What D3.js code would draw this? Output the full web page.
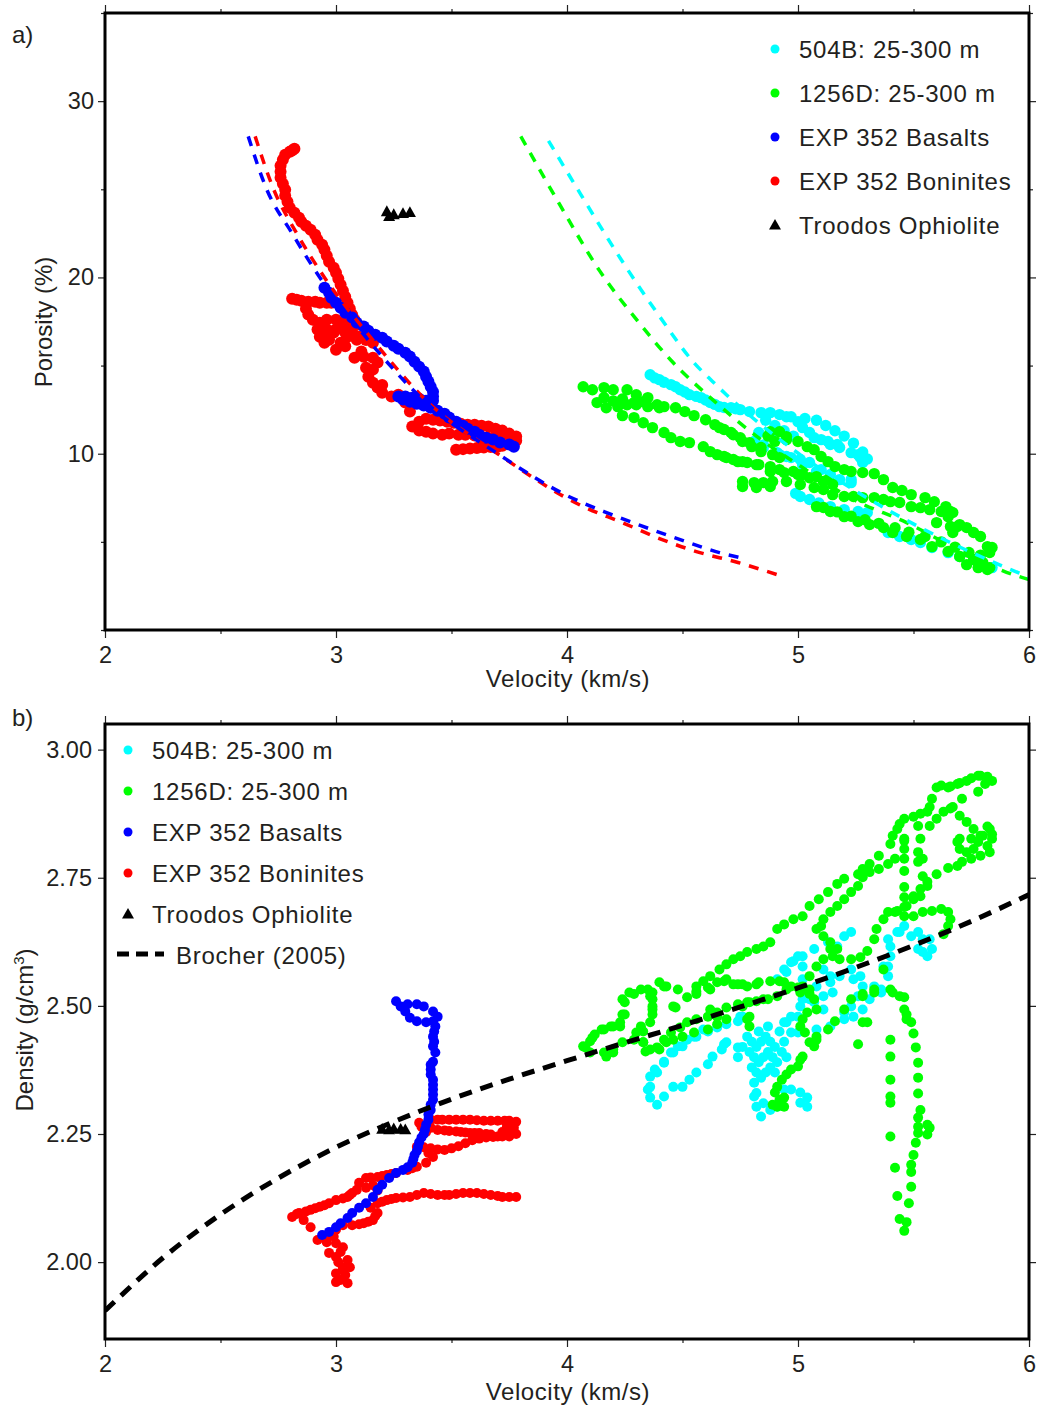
<!DOCTYPE html>
<html>
<head>
<meta charset="utf-8">
<script src="https://cdn.jsdelivr.net/npm/d3@7"></script>
<style>
  html, body { margin: 0; padding: 0; background: #fff; }
  svg { display: block; }
  text { font-family: "Liberation Sans", Arial, Helvetica, sans-serif; fill: #231f20; }
</style>
</head>
<body>
<script>
// ---------- axis ticks ----------
const velocityTicks = [2, 3, 4, 5, 6];
const velocityMinor = [2.5, 3.5, 4.5, 5.5];
const porosityTicks = [10, 20, 30];
const porosityMinor = [0, 5, 15, 25, 35];
const densityTicks = [2.00, 2.25, 2.50, 2.75, 3.00];

const legendLabels = ["504B: 25-300 m", "1256D: 25-300 m", "EXP 352 Basalts", "EXP 352 Boninites", "Troodos Ophiolite"];
const brocherLabel = "Brocher (2005)";

// ---------- (a) velocity [km/s] vs porosity [%] ----------
const hole504B_por = [
  [4.36,14.48],[4.40,14.20],[4.45,13.92],[4.49,13.63],[4.53,13.35],[4.58,13.18],[4.62,12.90],[4.66,12.67],[4.71,12.61],[4.75,12.50],
  [4.79,12.39],[4.84,12.33],[4.88,12.33],[4.92,12.22],[4.97,12.10],[5.00,11.82],[5.02,11.48],[5.05,11.20],[5.10,10.80],[5.14,10.52],
  [5.18,10.35],[5.23,10.06],[5.27,9.78],[5.28,9.50],
  [4.38,14.30],[4.42,14.05],[4.47,13.80],[4.51,13.50],[4.56,13.25],[4.60,13.05],[4.64,12.80],[4.68,12.62],[4.73,12.55],
  [4.81,10.63],[4.85,10.35],[4.91,10.06],[4.97,9.78],[5.02,9.38],[5.08,8.99],[5.14,8.82],[5.23,8.53],
  [4.95,12.10],[5.07,10.91],[5.13,10.69],[5.17,10.52],[5.26,9.95],[4.81,10.69],[4.85,10.50],[4.92,9.95],[4.95,9.84],[5.01,9.67],
  [5.05,9.50],[5.10,9.10],[5.18,8.53],[5.23,8.36],[5.03,12.00],[5.08,11.90],[5.12,11.60],[5.16,11.30],[5.20,11.00],[5.24,10.60],
  [5.28,10.10],[5.30,9.70],[4.86,11.90],[4.90,11.60],[4.94,11.30],[4.98,11.00],[4.83,11.20],[4.88,11.00],
  [5.01,7.57],[5.05,7.40],[5.14,7.00],[5.20,6.83],[5.26,6.72],[5.30,6.66],[4.99,7.75],[5.09,7.20],
  [5.39,5.53],[5.44,5.30],[5.49,5.13],[5.53,4.96],[5.58,4.68],[5.65,4.39],[5.70,4.17],[5.76,4.00],[5.80,3.71],[5.84,3.54]
];

const hole1256D_por = [
  [4.07,13.80],[4.11,13.63],[4.16,13.75],[4.20,13.63],[4.26,13.63],[4.30,13.35],[4.35,13.18],[4.39,12.78],[4.42,12.67],[4.47,12.61],
  [4.51,12.39],[4.55,12.16],[4.60,11.93],[4.64,11.65],[4.68,11.37],[4.72,11.08],[4.76,10.69],[4.80,10.40],[4.84,10.12],[4.89,9.95],[4.92,9.78],
  [4.17,12.61],[4.22,12.67],[4.26,12.78],[4.30,12.78],[4.35,12.67],[4.40,12.61],[4.16,13.18],[4.20,13.00],[4.24,13.10],[4.29,12.90],[4.33,12.95],[4.13,12.90],
  [4.24,12.16],[4.29,12.05],[4.33,11.76],[4.37,11.48],[4.42,11.20],[4.45,10.91],[4.49,10.69],[4.53,10.63],[4.59,10.40],[4.62,10.12],
  [4.65,9.95],[4.69,9.78],[4.74,9.55],[4.78,9.50],[4.83,9.38],[4.88,8.99],[4.94,8.93],[5.00,8.82],[5.05,8.64],[5.11,8.42],
  [4.66,11.48],[4.71,11.20],[4.75,10.91],[4.79,10.63],[4.84,10.35],[4.88,11.25],[4.92,11.25],[4.95,10.97],[5.00,10.69],[5.04,10.40],
  [5.07,10.23],[5.10,9.84],[5.13,9.55],[5.16,9.27],[5.20,9.10],[5.23,8.99],[5.28,8.93],[5.33,8.87],[5.37,8.53],[5.41,8.08],
  [5.45,7.91],[5.49,7.68],[5.55,7.51],[5.59,7.28],[5.64,7.00],[5.66,6.72],[4.87,11.00],[4.90,10.70],[4.95,10.80],
  [4.68,9.84],[4.72,9.67],[4.76,9.55],[4.82,9.38],[4.88,9.27],[4.92,9.10],[4.98,8.99],[5.02,8.82],[5.08,8.70],[5.13,8.53],[5.15,8.25],
  [4.76,8.42],[4.81,8.36],[4.85,8.36],[4.89,8.42],[4.95,8.42],[5.01,8.25],[5.07,8.08],[5.11,7.97],[5.15,7.68],[5.20,7.57],
  [5.24,7.57],[5.28,7.51],[5.33,7.51],[5.37,7.40],[5.40,7.28],[5.44,7.23],[5.49,7.00],[5.53,6.94],[5.57,6.83],[5.62,6.72],[5.65,6.43],
  [4.76,8.14],[4.82,8.08],[4.88,8.14],
  [5.08,7.00],[5.14,6.72],[5.20,6.43],[5.26,6.15],[5.31,5.98],[5.37,5.81],[5.41,5.53],[5.47,5.30],[5.53,5.13],[5.58,4.73],
  [5.65,4.45],[5.70,4.17],[5.76,4.00],[5.80,3.83],[5.83,3.54],[5.11,6.95],[5.17,6.70],[5.23,6.45],[5.29,6.25],[5.35,6.05],
  [5.42,5.80],[5.48,5.55],[5.55,5.30],[5.62,5.00],[5.68,4.70],[5.74,4.40],[5.79,4.25],
  [5.82,4.73],[5.84,4.68],[5.79,5.30],[5.76,5.53],[5.73,5.81],[5.70,5.98],[5.67,5.53],[5.66,5.87],[5.60,6.09],[5.67,6.66],
  [5.69,5.87],[5.83,4.40],[5.73,3.71],[5.78,3.54],[5.82,3.43]
];

const basalts_por = [
  [2.95,19.42],[2.97,19.13],[2.98,18.85],[3.00,18.57],[3.02,18.28],[3.04,18.00],[3.07,17.72],[3.09,17.43],[3.12,17.21],[3.14,16.98],
  [3.17,16.75],[3.20,16.58],[3.22,16.36],[3.25,16.13],[3.27,15.96],[3.30,15.73],[3.32,15.51],[3.34,15.22],[3.36,14.94],[3.38,14.66],
  [3.39,14.37],[3.40,14.09],[3.41,13.80],[3.42,13.52],[3.42,13.24],[3.42,13.01],[3.39,13.01],[3.36,13.12],[3.33,13.18],[3.30,13.24],
  [3.27,13.24],[3.29,13.07],[3.32,12.95],[3.35,12.84],[3.38,12.73],[3.41,12.61],[3.44,12.44],[3.47,12.27],[3.49,12.05],[3.52,11.82],
  [3.55,11.59],[3.57,11.42],[3.60,11.25],[3.62,11.08],[3.65,10.91],[3.68,10.80],[3.71,10.63],[3.75,10.52],[3.77,10.40]
];

const boninites_por = [
  [2.82,27.30],[2.81,27.20],[2.80,27.13],[2.78,26.96],[2.77,26.67],[2.76,26.33],[2.76,25.99],[2.76,25.65],[2.77,25.31],[2.78,24.97],
  [2.78,24.63],[2.79,24.29],[2.80,23.95],[2.82,23.67],[2.84,23.38],[2.85,23.16],[2.87,22.93],[2.89,22.70],[2.91,22.42],[2.92,22.14],
  [2.94,21.85],[2.95,21.57],[2.96,21.23],[2.97,20.89],[2.99,20.55],[3.00,20.27],[3.01,19.93],[3.02,19.59],[3.03,19.25],[3.04,18.91],
  [3.05,18.57],[3.06,18.23],[3.07,17.89],[3.08,17.60],[3.09,17.32],
  [2.81,18.79],[2.83,18.74],[2.85,18.68],[2.88,18.62],[2.91,18.62],[2.93,18.57],[2.96,18.57],[2.98,18.57],[2.87,18.23],[2.88,17.89],[2.90,17.60],
  [2.92,17.04],[2.93,17.43],[2.96,17.60],[3.00,17.60],[3.03,17.43],[3.06,17.21],[2.93,16.64],[2.97,16.47],[3.02,16.30],[3.05,16.64],
  [3.00,17.04],[2.96,17.04],[3.00,15.90],[3.09,16.47],[3.07,16.87],[2.94,16.87],[2.99,16.87],[3.04,16.87],[2.95,16.30],[3.04,16.10],
  [3.08,15.45],[3.12,15.50],[3.16,15.45],[3.18,15.17],[3.16,14.77],[3.13,14.88],[3.14,14.37],[3.16,14.03],[3.18,13.75],[3.20,13.46],
  [3.24,13.24],[3.27,13.35],[3.10,16.64],[3.13,16.45],[3.16,16.30],[3.30,12.90],[3.32,12.40],[3.11,15.80],[3.20,13.90],
  [3.33,11.54],[3.36,11.82],[3.39,11.99],[3.42,11.93],[3.45,11.88],[3.48,11.82],[3.51,11.76],[3.54,11.70],[3.57,11.65],[3.60,11.65],
  [3.63,11.59],[3.66,11.54],[3.69,11.42],[3.72,11.31],[3.75,11.14],[3.78,10.97],[3.78,10.74],[3.75,10.74],[3.72,10.80],[3.69,10.86],
  [3.66,10.91],[3.63,10.97],[3.60,11.03],[3.56,11.08],[3.53,11.08],[3.49,11.14],[3.46,11.08],[3.42,11.14],[3.39,11.25],[3.36,11.31],
  [3.52,10.23],[3.55,10.26],[3.58,10.29],[3.61,10.32],[3.64,10.35],[3.67,10.38],[3.70,10.40],[3.72,10.45]
];

const troodos_por = [[3.22,23.72],[3.25,23.55],[3.29,23.61],[3.32,23.67],[3.23,23.45]];

// velocity-porosity trend curves
const fit504B_por = [[3.92,27.75],[4.06,24.7],[4.23,21.1],[4.40,17.8],[4.55,15.16],[4.63,14.1],[4.69,13.35],[4.97,10.32],[5.26,7.80],[5.65,5.02],[5.89,3.60],[6.00,3.00]];
const fit1256D_por = [[3.80,28.0],[3.97,24.1],[4.14,20.4],[4.32,17.3],[4.45,15.3],[4.63,13.07],[4.84,10.8],[5.01,9.3],[5.24,7.40],[5.47,6.09],[5.75,4.17],[5.93,3.15],[6.00,2.86]];
const fitBasalts_por = [[2.62,28.0],[2.70,25.0],[2.81,22.5],[2.93,20.0],[3.13,16.6],[3.39,12.9],[3.70,10.0],[4.01,7.56],[4.16,6.72],[4.32,5.92],[4.49,5.13],[4.66,4.39],[4.75,4.10]];
const fitBoninites_por = [[2.65,28.0],[2.73,25.0],[2.83,22.5],[2.95,20.0],[3.15,16.6],[3.40,12.9],[3.70,10.0],[4.07,7.0],[4.24,6.09],[4.40,5.19],[4.56,4.45],[4.74,3.83],[4.93,3.05]];

// ---------- (b) velocity [km/s] vs density [g/cm3] ----------
const hole504B_rho = [
  [4.36,2.362],[4.35,2.337],[4.36,2.321],[4.39,2.307],[4.42,2.323],[4.46,2.342],[4.50,2.342],[4.53,2.356],[4.56,2.370],[4.61,2.386],
  [4.63,2.401],[4.67,2.415],[4.69,2.429],[4.74,2.419],
  [4.38,2.376],[4.42,2.391],[4.46,2.409],[4.50,2.421],[4.52,2.434],[4.56,2.440],[4.61,2.450],[4.65,2.458],[4.69,2.464],[4.74,2.470],[4.76,2.479],
  [4.59,2.454],[4.55,2.440],[4.48,2.421],[4.45,2.409],[4.42,2.389],[4.39,2.370],[4.36,2.342],[4.75,2.479],
  [4.78,2.44],[4.80,2.43],[4.82,2.42],[4.84,2.43],[4.86,2.44],[4.88,2.43],[4.90,2.42],[4.79,2.41],[4.81,2.40],[4.83,2.39],
  [4.85,2.40],[4.87,2.41],[4.89,2.40],[4.91,2.39],[4.80,2.38],[4.82,2.37],[4.84,2.36],[4.86,2.37],[4.88,2.38],[4.90,2.37],
  [4.83,2.45],[4.87,2.46],[4.92,2.45],[4.76,2.42],[4.74,2.40],[4.93,2.41],[4.94,2.43],[4.95,2.40],
  [4.81,2.350],[4.81,2.323],[4.82,2.303],[4.84,2.284],[4.88,2.297],[4.91,2.303],[4.94,2.337],[4.97,2.337],[5.01,2.331],[5.04,2.321],
  [5.04,2.303],[5.01,2.311],[4.82,2.33],[4.85,2.31],
  [4.95,2.468],[4.97,2.479],[5.01,2.499],[5.05,2.513],[5.11,2.519],[5.15,2.526],[5.00,2.448],[5.08,2.454],[5.14,2.460],[5.20,2.474],
  [5.24,2.479],[5.28,2.493],[5.31,2.513],[5.36,2.526],
  [5.23,2.644],[5.20,2.636],[5.13,2.624],[5.07,2.611],[5.02,2.597],[4.98,2.587],[4.94,2.571],[4.91,2.552],[5.02,2.552],[5.08,2.538],
  [5.14,2.546],[5.18,2.558],[5.23,2.571],[5.27,2.558],[5.28,2.538],[5.26,2.519],[5.23,2.499],[5.20,2.487],[5.11,2.493],[5.07,2.507],[5.05,2.519],
  [5.39,2.630],[5.44,2.644],[5.49,2.636],[5.52,2.611],[5.56,2.597],[5.58,2.611],[5.57,2.630],[5.40,2.597],[5.39,2.558],[5.36,2.532],
  [5.33,2.538],[5.39,2.577],
  [4.94,2.468],[4.97,2.448],[5.00,2.479],[5.02,2.513],[5.01,2.532],[4.68,2.425],
  [5.17,2.616],[5.00,2.597],[4.97,2.585],[4.95,2.566],[5.02,2.577],[5.11,2.571],[5.14,2.558],[5.24,2.552],[5.37,2.577],[5.40,2.616],
  [5.43,2.644],[5.46,2.656],[5.52,2.644],[5.54,2.630],[5.54,2.605]
];

const hole1256D_rho = [
  [5.60,2.926],[5.62,2.930],[5.65,2.926],[5.66,2.928],[5.69,2.933],[5.70,2.935],[5.73,2.939],[5.75,2.944],[5.78,2.949],[5.79,2.949],
  [5.82,2.947],[5.84,2.939],[5.81,2.933],[5.78,2.918],[5.71,2.904],
  [5.58,2.904],[5.57,2.888],[5.56,2.879],[5.53,2.875],[5.50,2.869],[5.46,2.865],[5.44,2.855],[5.43,2.845],[5.41,2.832],[5.40,2.816],
  [5.35,2.793],[5.31,2.777],[5.28,2.767],[5.26,2.757],[5.20,2.748],[5.17,2.738],[5.13,2.722],[5.09,2.708],[5.05,2.695],[5.02,2.675],
  [4.98,2.669],[4.94,2.659],[4.91,2.650],[4.88,2.624],[4.85,2.616],[4.82,2.611],[4.78,2.605],[4.75,2.597],[4.72,2.591],[4.69,2.581],
  [4.66,2.571],[4.62,2.558],[4.59,2.548],[4.56,2.538],[4.52,2.517],
  [5.46,2.822],[5.42,2.787],[5.39,2.777],[5.35,2.767],[5.31,2.761],[5.28,2.751],[5.26,2.734],[5.23,2.722],[5.20,2.708],[5.17,2.695],
  [5.14,2.683],[5.11,2.669],[5.10,2.656],[5.08,2.650],[5.11,2.636],[5.14,2.624],[5.17,2.611],[5.15,2.597],[5.18,2.591],[5.23,2.591],
  [5.27,2.595],[5.30,2.607],[5.33,2.630],[5.34,2.650],[5.37,2.669],[5.39,2.683],[5.42,2.683],[5.46,2.675],[5.50,2.675],[5.54,2.683],
  [5.58,2.685],[5.62,2.689],[5.65,2.683],[5.66,2.669],[5.65,2.656],[5.63,2.640],
  [5.52,2.781],[5.54,2.753],[5.56,2.734],[5.53,2.714],[5.50,2.708],[5.47,2.695],[5.43,2.685],[5.46,2.826],[5.46,2.806],[5.46,2.787],
  [5.46,2.763],[5.46,2.732],[5.46,2.712],[5.46,2.693],
  [5.67,2.888],[5.70,2.871],[5.73,2.859],[5.76,2.845],[5.80,2.832],[5.83,2.845],[5.84,2.826],[5.82,2.812],[5.79,2.793],[5.75,2.787],
  [5.71,2.781],[5.69,2.773],[5.65,2.769],[5.60,2.757],[5.56,2.742],[5.53,2.728],[5.50,2.714],[5.69,2.820],[5.70,2.806],[5.73,2.800],
  [5.76,2.806],[5.78,2.820],[5.79,2.832],[5.75,2.826],[5.70,2.826],[5.52,2.851],[5.53,2.826],[5.52,2.800],[5.54,2.787],[5.57,2.851],
  [5.60,2.865],[5.63,2.879],[5.66,2.885],[5.82,2.850],[5.84,2.835],[5.83,2.800],
  [4.35,2.532],[4.32,2.532],[4.27,2.526],[4.24,2.513],[4.40,2.546],[4.42,2.538],[4.37,2.526],[4.37,2.499],[4.46,2.499],[4.56,2.528],
  [4.61,2.536],[4.65,2.546],[4.69,2.552],[4.74,2.542],[4.78,2.538],[4.83,2.546],[4.88,2.548],[4.92,2.548],[4.97,2.538],[5.01,2.526],[5.05,2.532],
  [4.48,2.532],[4.43,2.538],[4.25,2.483],[4.23,2.468],[4.19,2.460],[4.15,2.454],[4.11,2.438],[4.08,2.419],[4.10,2.409],[4.17,2.401],[4.20,2.409],
  [4.36,2.519],[4.37,2.493],[4.36,2.468],[4.32,2.460],[4.30,2.448],[4.33,2.429],[4.36,2.415],[4.40,2.415],[4.43,2.429],[4.46,2.434],
  [4.50,2.440],[4.55,2.448],[4.61,2.454],[4.65,2.464],[4.69,2.474],[4.76,2.499],[4.79,2.507],[4.85,2.513],[4.91,2.519],[4.95,2.532],
  [5.02,2.538],[5.05,2.558],[5.08,2.577],[5.11,2.591],[5.14,2.611],
  [4.62,2.532],[4.68,2.548],[4.72,2.542],[4.76,2.542],[4.82,2.542],[4.94,2.546],[5.00,2.536],[5.05,2.523],
  [4.79,2.460],[4.62,2.493],[4.65,2.479],
  [5.07,2.513],[5.08,2.493],[5.04,2.487],[5.02,2.474],[5.03,2.448],[5.05,2.429],[5.07,2.421],[5.08,2.440],[5.13,2.454],[5.16,2.470],
  [5.02,2.401],[5.01,2.395],[5.00,2.382],[4.97,2.376],[4.95,2.366],[4.93,2.356],[4.91,2.342],[4.90,2.331],[4.89,2.307],[4.91,2.303],
  [4.94,2.303],[4.94,2.321],[4.92,2.317],[5.01,2.460],[5.08,2.434],
  [4.07,2.421],[4.10,2.431],[4.12,2.444],[4.16,2.454],[4.20,2.460],[4.23,2.460],[4.24,2.483],[4.25,2.507],[4.29,2.523],[4.37,2.513],
  [4.37,2.483],[4.33,2.450],[4.33,2.429],[4.34,2.411],[4.39,2.419],[4.42,2.434],[4.45,2.448],[4.49,2.458],[4.52,2.468],[4.56,2.474],
  [4.61,2.479],[4.65,2.487],[4.69,2.497],[4.74,2.503],[4.78,2.507],[4.82,2.509],[4.87,2.513],[4.16,2.409],[4.20,2.415],[4.24,2.429],
  [4.29,2.434],[4.78,2.474],[4.79,2.479],[4.47,2.497],[4.56,2.523],
  [5.37,2.571],[5.33,2.532],[5.28,2.519],[5.40,2.532],[5.40,2.434],[5.40,2.401],[5.40,2.356],[5.40,2.323],[5.40,2.311],[5.40,2.245],
  [5.42,2.184],[5.43,2.129],[5.44,2.084],[5.46,2.061],[5.47,2.078],
  [5.41,2.526],[5.44,2.519],[5.46,2.517],[5.46,2.493],[5.47,2.483],[5.47,2.474],[5.49,2.468],[5.50,2.446],[5.51,2.419],[5.52,2.389],
  [5.52,2.360],[5.52,2.329],[5.53,2.297],[5.52,2.282],[5.52,2.264],[5.56,2.268],[5.57,2.262],[5.56,2.249],[5.52,2.252],[5.51,2.233],
  [5.50,2.209],[5.49,2.190],[5.49,2.176],[5.49,2.147],[5.48,2.115],
  [5.28,2.468],[5.30,2.468],[5.26,2.425],[5.20,2.493],[5.23,2.513],[5.28,2.523],[5.33,2.526]
];

const basalts_rho = [
  [3.26,2.509],[3.28,2.499],[3.31,2.503],[3.35,2.503],[3.38,2.499],[3.42,2.489],[3.44,2.479],[3.42,2.470],[3.35,2.470],[3.32,2.477],
  [3.30,2.489],[3.39,2.468],[3.43,2.460],[3.425,2.450],[3.42,2.440],[3.425,2.430],[3.42,2.421],[3.43,2.409],[3.42,2.391],[3.41,2.385],
  [3.41,2.376],[3.41,2.366],[3.42,2.356],[3.42,2.346],[3.42,2.337],[3.42,2.327],[3.42,2.317],[3.41,2.307],[3.41,2.297],[3.40,2.288],
  [3.40,2.278],[3.39,2.268],[3.385,2.258],[3.38,2.250],[3.37,2.243],[3.36,2.234],[3.355,2.225],[3.35,2.217],[3.34,2.209],[3.335,2.201],
  [3.33,2.194],[3.31,2.185],[3.29,2.180],[3.26,2.174],[3.23,2.164],[3.20,2.151],[3.18,2.141],[3.16,2.127],[3.13,2.115],[3.10,2.106],
  [3.07,2.096],[3.05,2.086],[3.02,2.076],[3.00,2.068],[2.97,2.059],[2.94,2.053]
];

const boninites_rho = [
  [3.36,2.272],[3.41,2.278],[3.44,2.278],[3.46,2.278],[3.49,2.278],[3.52,2.278],[3.55,2.278],[3.58,2.278],[3.61,2.277],[3.64,2.276],
  [3.67,2.276],[3.70,2.276],[3.73,2.276],[3.75,2.276],[3.78,2.274],
  [3.75,2.245],[3.72,2.245],[3.70,2.245],[3.67,2.249],[3.65,2.250],[3.62,2.252],[3.60,2.252],[3.58,2.252],[3.56,2.253],[3.54,2.254],
  [3.52,2.255],[3.49,2.256],[3.47,2.257],[3.44,2.258],[3.39,2.254],[3.37,2.264],[3.72,2.254],[3.75,2.252],[3.78,2.250],[3.77,2.262],
  [3.74,2.265],[3.41,2.262],
  [3.35,2.225],[3.38,2.224],[3.41,2.222],[3.44,2.220],[3.47,2.219],[3.50,2.222],[3.53,2.226],[3.56,2.232],[3.59,2.238],[3.62,2.241],
  [3.65,2.243],[3.68,2.244],[3.42,2.205],[3.39,2.194],[3.35,2.186],[3.31,2.180],[3.26,2.174],[3.22,2.170],[3.18,2.166],[3.13,2.164],
  [3.10,2.155],[3.09,2.141],[3.07,2.135],[3.05,2.127],[3.00,2.121],[2.97,2.115],[2.93,2.108],[2.89,2.102],[2.84,2.096],[2.81,2.088],
  [2.86,2.082],[2.89,2.068],[3.16,2.150],[3.18,2.140],[3.13,2.145],[3.40,2.213],[3.33,2.183],[3.24,2.172],[3.20,2.168],[3.15,2.165],
  [3.06,2.131],[3.03,2.124],[2.95,2.111],[2.91,2.105],[2.87,2.099],[2.83,2.094],
  [3.78,2.127],[3.75,2.127],[3.72,2.127],[3.70,2.129],[3.67,2.131],[3.64,2.133],[3.61,2.135],[3.58,2.135],[3.55,2.135],[3.52,2.133],
  [3.49,2.131],[3.47,2.131],[3.44,2.131],[3.41,2.133],[3.38,2.135],[3.35,2.131],[3.32,2.127],[3.29,2.126],[3.26,2.125],[3.24,2.123],
  [3.22,2.121],[3.20,2.118],[3.18,2.115],[3.15,2.106],[3.18,2.096],[3.16,2.082],[3.12,2.076],[3.07,2.072],[3.03,2.072],[3.00,2.063],
  [3.17,2.090],[3.14,2.079],[3.10,2.074],
  [2.92,2.043],[2.96,2.039],[3.00,2.037],[3.03,2.029],[2.97,2.018],[3.00,2.010],[3.05,2.004],[3.03,1.990],[3.06,1.990],[3.00,1.978],
  [3.02,1.965],[3.05,1.959],[3.00,1.961],[2.99,2.050],[3.02,2.020],[3.04,1.975],[2.96,2.045],[3.01,2.000],[3.03,1.985]
];

const troodos_rho = [[3.20,2.259],[3.23,2.258],[3.25,2.260],[3.28,2.259],[3.30,2.258]];

// Brocher (2005) Nafe-Drake density curve
const brocherVel = [2.00,2.25,2.50,2.75,3.00,3.25,3.50,3.75,4.00,4.25,4.50,4.75,5.00,5.25,5.50,5.75,6.00];
const brocherRho = [1.905,2.008,2.093,2.164,2.224,2.274,2.318,2.357,2.393,2.428,2.462,2.498,2.535,2.575,2.618,2.665,2.717];

// ---------- drawing ----------
const W = 1045, H = 1406;
const COLORS = { c504B: "#00ffff", c1256D: "#00ff00", basalt: "#0000ff", boninite: "#ff0000", black: "#000000" };
const FONT = 23.5;
const LEGEND_FONT = 24;
const LEGEND_SPACING = 0.75;

const svg = d3.select("body").append("svg").attr("width", W).attr("height", H);

const x = d3.scaleLinear().domain([2, 6]).range([105, 1029]);
const yPor = d3.scaleLinear().domain([0, 35]).range([630, 13]);
const yRho = d3.scaleLinear().domain([1.85, 3.05]).range([1339, 724]);

function styleAxis(g, withText) {
  g.select(".domain").remove();
  g.selectAll("line").attr("stroke", "#222").attr("stroke-width", 1.2);
  if (withText) g.selectAll("text").attr("font-size", FONT).attr("fill", "#231f20");
  else g.selectAll("text").remove();
}

function drawFrame(yScale, yMajor, yMinor, yFmt, leftPad) {
  const [yb, yt] = yScale.range();
  const g = svg.append("g");
  // bottom
  g.append("g").attr("transform", `translate(0,${yb})`)
    .call(d3.axisBottom(x).tickValues(velocityTicks).tickSize(8).tickPadding(8).tickFormat(d3.format("d")))
    .call(a => styleAxis(a, true));
  g.append("g").attr("transform", `translate(0,${yb})`)
    .call(d3.axisBottom(x).tickValues(velocityMinor).tickSize(4).tickFormat(""))
    .call(a => styleAxis(a, false));
  // top
  g.append("g").attr("transform", `translate(0,${yt})`)
    .call(d3.axisTop(x).tickValues(velocityTicks).tickSize(8).tickFormat(""))
    .call(a => styleAxis(a, false));
  g.append("g").attr("transform", `translate(0,${yt})`)
    .call(d3.axisTop(x).tickValues(velocityMinor).tickSize(4).tickFormat(""))
    .call(a => styleAxis(a, false));
  // left
  g.append("g").attr("transform", `translate(${x.range()[0]},0)`)
    .call(d3.axisLeft(yScale).tickValues(yMajor).tickSize(7).tickPadding(leftPad).tickFormat(yFmt))
    .call(a => styleAxis(a, true));
  // right
  g.append("g").attr("transform", `translate(${x.range()[1]},0)`)
    .call(d3.axisRight(yScale).tickValues(yMajor).tickSize(7).tickFormat(""))
    .call(a => styleAxis(a, false));
  if (yMinor.length) {
    g.append("g").attr("transform", `translate(${x.range()[0]},0)`)
      .call(d3.axisLeft(yScale).tickValues(yMinor).tickSize(4).tickFormat(""))
      .call(a => styleAxis(a, false));
    g.append("g").attr("transform", `translate(${x.range()[1]},0)`)
      .call(d3.axisRight(yScale).tickValues(yMinor).tickSize(4).tickFormat(""))
      .call(a => styleAxis(a, false));
  }
  g.append("rect")
    .attr("x", x.range()[0]).attr("y", yt)
    .attr("width", x.range()[1] - x.range()[0]).attr("height", yb - yt)
    .attr("fill", "none").attr("stroke", "#000").attr("stroke-width", 3);
}

function plotArea(id, yScale) {
  const [yb, yt] = yScale.range();
  svg.append("clipPath").attr("id", id).append("rect")
    .attr("x", x.range()[0]).attr("y", yt)
    .attr("width", x.range()[1] - x.range()[0]).attr("height", yb - yt);
  return svg.append("g").attr("clip-path", `url(#${id})`);
}

function dots(g, data, yScale, color, r) {
  g.append("g").selectAll("circle").data(data).join("circle")
    .attr("cx", d => x(d[0])).attr("cy", d => yScale(d[1]))
    .attr("r", r).attr("fill", color);
}

function triangles(g, data, yScale, w) {
  const h = w * 0.9;
  g.append("g").selectAll("path").data(data).join("path")
    .attr("transform", d => `translate(${x(d[0])},${yScale(d[1])})`)
    .attr("d", `M0,${-h * 0.6}L${w / 2},${h * 0.4}L${-w / 2},${h * 0.4}Z`)
    .attr("fill", "#000");
}

function dashed(g, data, yScale, color, width, dash) {
  const line = d3.line().x(d => x(d[0])).y(d => yScale(d[1])).curve(d3.curveMonotoneX);
  g.append("path").datum(data).attr("d", line)
    .attr("fill", "none").attr("stroke", color).attr("stroke-width", width)
    .attr("stroke-dasharray", dash);
}

// ===== panel (a) =====
const gA = plotArea("clipA", yPor);
dots(gA, hole504B_por, yPor, COLORS.c504B, 5.7);
dots(gA, hole1256D_por, yPor, COLORS.c1256D, 5.7);
dots(gA, boninites_por, yPor, COLORS.boninite, 6);
dots(gA, basalts_por, yPor, COLORS.basalt, 6);
triangles(gA, troodos_por, yPor, 12);
dashed(gA, fit1256D_por, yPor, COLORS.c1256D, 3.5, "10,9");
dashed(gA, fit504B_por, yPor, COLORS.c504B, 3.5, "10,9");
dashed(gA, fitBoninites_por, yPor, COLORS.boninite, 3.5, "10,9");
dashed(gA, fitBasalts_por, yPor, COLORS.basalt, 3.5, "10,9");

drawFrame(yPor, porosityTicks, porosityMinor, d3.format("d"), 4);

svg.append("text").attr("x", 12).attr("y", 43).attr("font-size", 24).text("a)");
svg.append("text").attr("x", 568).attr("y", 687).attr("text-anchor", "middle").attr("font-size", 24)
  .attr("letter-spacing", 0.55).text("Velocity (km/s)");
svg.append("text").attr("transform", "translate(52,322) rotate(-90)").attr("text-anchor", "middle")
  .attr("font-size", 24).text("Porosity (%)");

// legend (a)
const legendColors = [COLORS.c504B, COLORS.c1256D, COLORS.basalt, COLORS.boninite, COLORS.black];
const legA = svg.append("g");
legendLabels.forEach((lab, i) => {
  const yy = 49 + i * 44;
  if (i < 4) legA.append("circle").attr("cx", 775).attr("cy", yy).attr("r", 4.5).attr("fill", legendColors[i]);
  else legA.append("path").attr("transform", `translate(775,${yy})`).attr("d", "M0,-6L6,4.5L-6,4.5Z").attr("fill", "#000");
  legA.append("text").attr("x", 799).attr("y", yy + 8.5).attr("font-size", LEGEND_FONT)
    .attr("letter-spacing", LEGEND_SPACING).text(lab);
});

// ===== panel (b) =====
const gB = plotArea("clipB", yRho);
dots(gB, hole504B_rho, yRho, COLORS.c504B, 5);
dots(gB, hole1256D_rho, yRho, COLORS.c1256D, 5);
dots(gB, boninites_rho, yRho, COLORS.boninite, 5);
dots(gB, basalts_rho, yRho, COLORS.basalt, 5);
triangles(gB, troodos_rho, yRho, 12);
dashed(gB, brocherVel.map((v, i) => [v, brocherRho[i]]), yRho, "#000", 5, "13,9");

drawFrame(yRho, densityTicks, [], d3.format(".2f"), 6);

svg.append("text").attr("x", 12).attr("y", 726).attr("font-size", 24).text("b)");
svg.append("text").attr("x", 568).attr("y", 1400).attr("text-anchor", "middle").attr("font-size", 24)
  .attr("letter-spacing", 0.55).text("Velocity (km/s)");
const dens = svg.append("text").attr("transform", "translate(33,1030) rotate(-90)").attr("text-anchor", "middle").attr("font-size", 24);
dens.append("tspan").text("Density (g/cm");
dens.append("tspan").attr("font-size", 15).attr("dy", -9).text("3");
dens.append("tspan").attr("dy", 9).text(")");

// legend (b)
const legB = svg.append("g");
legendLabels.forEach((lab, i) => {
  const yy = 750 + i * 41;
  if (i < 4) legB.append("circle").attr("cx", 128).attr("cy", yy).attr("r", 4.5).attr("fill", legendColors[i]);
  else legB.append("path").attr("transform", `translate(128,${yy})`).attr("d", "M0,-6L6,4.5L-6,4.5Z").attr("fill", "#000");
  legB.append("text").attr("x", 152).attr("y", yy + 8.5).attr("font-size", LEGEND_FONT)
    .attr("letter-spacing", LEGEND_SPACING).text(lab);
});
const yBro = 750 + 5 * 41;
legB.append("line").attr("x1", 117).attr("x2", 164).attr("y1", yBro - 1).attr("y2", yBro - 1)
  .attr("stroke", "#000").attr("stroke-width", 5).attr("stroke-dasharray", "12,7");
legB.append("text").attr("x", 176).attr("y", yBro + 8.5).attr("font-size", LEGEND_FONT)
  .attr("letter-spacing", LEGEND_SPACING).text(brocherLabel);
</script>
</body>
</html>
